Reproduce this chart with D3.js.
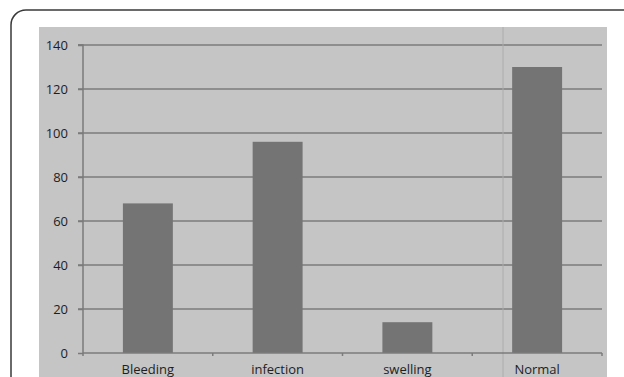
<!DOCTYPE html>
<html>
<head>
<meta charset="utf-8">
<script src="https://cdn.jsdelivr.net/npm/d3@7"></script>
<style>
  body { margin: 0; background: #fff; }
  svg { display: block; }
</style>
</head>
<body>
<svg width="624" height="377"></svg>
<script>
// данные графика
const categories = ["Bleeding", "infection", "swelling", "Normal"];
const values = [68, 96, 14, 130];
const yTicks = [0, 20, 40, 60, 80, 100, 120, 140];

const svg = d3.select("svg");

// рамка с закруглённым углом (уходит за правый и нижний край)
svg.append("rect")
    .attr("x", 11).attr("y", 10)
    .attr("width", 640).attr("height", 400)
    .attr("rx", 15)
    .attr("fill", "#fff")
    .attr("stroke", "#3a3a3a")
    .attr("stroke-width", 1.5);

// серая область графика
svg.append("rect")
    .attr("x", 39).attr("y", 27)
    .attr("width", 568).attr("height", 360)
    .attr("fill", "#c5c5c5");

const area = { left: 83, right: 602, top: 45, bottom: 353 };

let scaleX = d3.scaleBand()
    .domain(categories)
    .range([area.left, area.right])
    .paddingInner(0.615)
    .paddingOuter(0.3075);

let scaleY = d3.scaleLinear()
    .domain([0, 140])
    .range([area.bottom, area.top]);

// линии сетки
svg.append("g")
    .selectAll("line")
    .data(yTicks.slice(1))
    .enter()
    .append("line")
    .attr("x1", area.left - 5)
    .attr("x2", area.right)
    .attr("y1", d => scaleY(d))
    .attr("y2", d => scaleY(d))
    .attr("stroke", "#7b7b7b")
    .attr("stroke-width", 1.5);

// вертикальная светлая полоса (артефакт скана)
svg.append("line")
    .attr("x1", 503).attr("x2", 503)
    .attr("y1", 27).attr("y2", 377)
    .attr("stroke", "#acacac")
    .attr("stroke-width", 1);

// столбцы
svg.selectAll(".bar")
    .data(categories)
    .enter()
    .append("rect")
    .attr("x", d => scaleX(d))
    .attr("y", (d, i) => scaleY(values[i]))
    .attr("width", scaleX.bandwidth())
    .attr("height", (d, i) => scaleY(0) - scaleY(values[i]))
    .attr("fill", "#747474");

// ось Y
let axisY = d3.axisLeft(scaleY).tickValues(yTicks).tickSize(5).tickPadding(10);
let gY = svg.append("g")
    .attr("transform", `translate(${area.left}, 0)`)
    .call(axisY);
gY.select(".domain").attr("stroke", "#7b7b7b").attr("stroke-width", 1.5)
    .attr("d", `M-5,${area.top}H0V${area.bottom + 3}`);
gY.selectAll(".tick line").attr("stroke", "#7b7b7b").attr("stroke-width", 1.5);
gY.selectAll("text")
    .attr("fill", "#1e1e1e")
    .style("font-family", "'Open Sans', 'DejaVu Sans', sans-serif")
    .style("font-size", "13px");

// ось X
let bandStep = scaleX.step();
let sepTicks = categories.map((d, i) => area.left + bandStep * (i + 1));
let gX = svg.append("g");
gX.append("line")
    .attr("x1", area.left).attr("x2", area.right)
    .attr("y1", area.bottom).attr("y2", area.bottom)
    .attr("stroke", "#7b7b7b").attr("stroke-width", 1.5);
gX.selectAll(".sep")
    .data(sepTicks)
    .enter()
    .append("line")
    .attr("x1", d => d).attr("x2", d => d)
    .attr("y1", area.bottom).attr("y2", area.bottom + 3)
    .attr("stroke", "#7b7b7b").attr("stroke-width", 1.5);
gX.selectAll(".lbl")
    .data(categories)
    .enter()
    .append("text")
    .attr("x", d => scaleX(d) + scaleX.bandwidth() / 2)
    .attr("y", 374)
    .attr("text-anchor", "middle")
    .attr("fill", "#1e1e1e")
    .style("font-family", "'Open Sans', 'DejaVu Sans', sans-serif")
    .style("font-size", "13px")
    .text(d => d);
</script>
</body>
</html>
